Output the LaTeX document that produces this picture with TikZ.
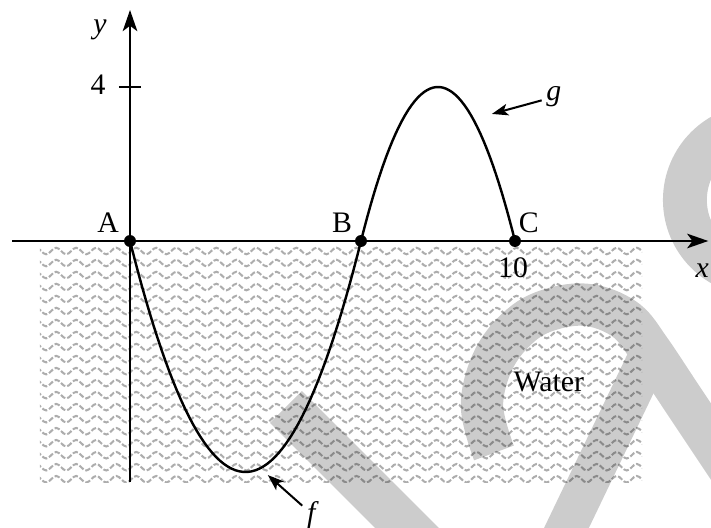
\documentclass[tikz,border=0pt]{standalone}
\usepackage{fontspec}
\setmainfont{Liberation Serif}
\usetikzlibrary{arrows.meta,decorations.pathmorphing}

\begin{document}
\begin{tikzpicture}[
    axis/.style={line width=1.4pt, -{Stealth[length=0.55cm, width=0.38cm, inset=0.14cm]}},
    curve/.style={line width=1.8pt},
    pointer/.style={line width=1.5pt, -{Stealth[length=0.42cm, width=0.3cm, inset=0.1cm]}},
    dot/.style={circle, fill, inner sep=0pt, minimum size=0.31cm},
    wave/.style={black, opacity=0.32, line width=1.5pt, dash pattern=on 4pt off 1.5pt,
        decorate, decoration={snake, segment length=0.52cm, amplitude=0.085cm}},
    wmark/.style={gray!40},
    every node/.style={font=\fontsize{22}{26}\selectfont}]
    \useasboundingbox (-3.377,-7.429) rectangle (15.091,6.26);

    % watermark (pixel coordinates)
    \begin{scope}[shift={(-3.3766cm,6.2597cm)}, x=0.025974cm, y=-0.025974cm]
        \draw[wmark, line width=1.17cm] (286,407) -- (430,551);
        \draw[wmark, line width=1.14cm] (759,200) circle[radius=74];
        \draw[wmark, line width=1.1cm] plot[smooth, tension=0.6] coordinates
            {(494,453) (482,405) (495,357) (525,322) (560,307) (594,306) (627,321) (650,350) (680,395) (730,470)};
        \draw[wmark, line width=1.05cm] (652,350) -- (556,550);
    \end{scope}

    % water
    \begin{scope}
        \clip (-2.34,0) rectangle (13.3,-6.26);
        \foreach \r in {0,...,19}
            \draw[wave] (-2.6,-0.26-0.312*\r) -- (13.6,-0.26-0.312*\r);
    \end{scope}
    \node (water) at (10.88,-3.66) {Water};

    % axes
    \coordinate (xs) at (-3.06,0);
    \coordinate (xe) at (15.02,0);
    \coordinate (ys) at (0,-6.26);
    \coordinate (ye) at (0,6.0);
    \draw[axis] (xs) -- (xe);
    \draw[axis] (ys) -- (ye);
    \draw[line width=1.4pt] (-0.29,4) -- (0.29,4);
    \node (lx) at (14.86,-0.76) {\textit{x}};
    \node (ly) at (-0.78,5.48) {\textit{y}};
    \node (l4) at (-0.83,4.05) {4};
    \node (l10) at (9.95,-0.70) {10};

    % f and g
    \draw[curve] plot[domain=0:6, samples=60] (\x,{2/3*\x*(\x-6)});
    \draw[curve] plot[domain=6:10, samples=50] (\x,{-(\x-6)*(\x-10)});

    \node[dot] (A) at (0,0) {};
    \node[dot] (B) at (6,0) {};
    \node[dot] (C) at (10,0) {};
    \node (lA) at (-0.57,0.47) {A};
    \node (lB) at (5.51,0.47) {B};
    \node (lC) at (10.36,0.47) {C};

    \node (lg) at (11.01,3.74) {\textit{g}};
    \node (lf) at (4.75,-7.12) {\textit{f}};
    \coordinate (gtip) at (9.40,3.30);
    \coordinate (ftip) at (3.58,-6.08);
    \draw[pointer] (lg) -- (gtip);
    \draw[pointer] (lf) -- (ftip);
\end{tikzpicture}
\end{document}
